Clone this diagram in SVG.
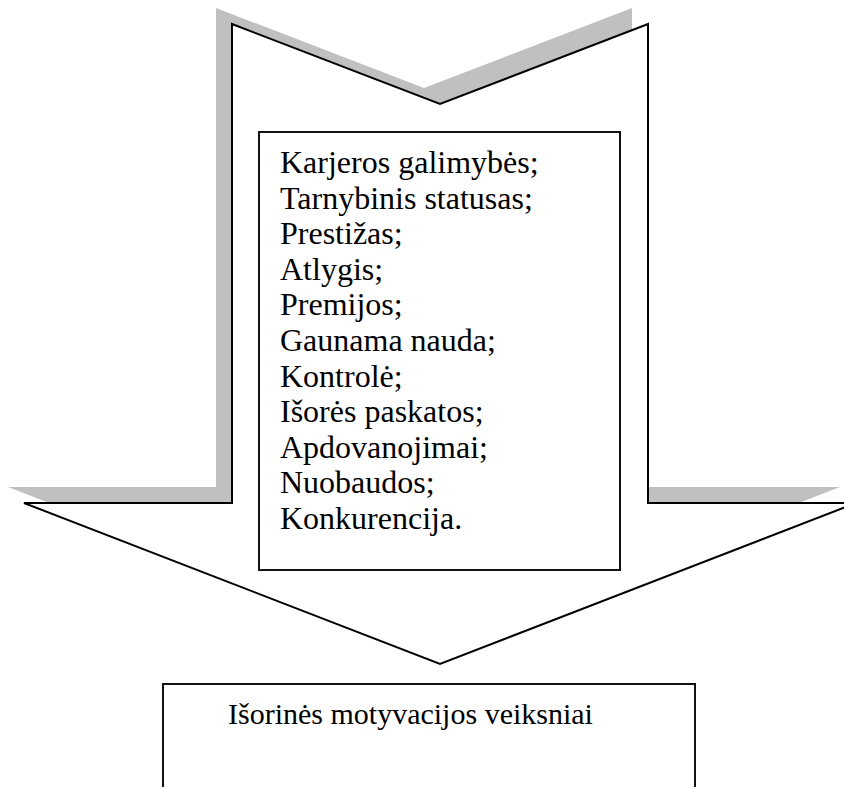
<svg xmlns="http://www.w3.org/2000/svg" width="844" height="787" viewBox="0 0 844 787">
<style>
.t{font-family:"Liberation Serif","Times New Roman",serif;font-size:32px;fill:#000}
.box{fill:#fff;stroke:#111;stroke-width:2}
</style>
<rect width="844" height="787" fill="#fff"/>
<g id="arrow">
<polygon points="216,8 424,88 632,8 632,487 840,487 424,648 8,487 216,487" fill="#c0c0c0"/>
<polygon points="232,24 440,104 648,24 648,503 856,503 440,664 24,503 232,503" fill="#fff" stroke="#000" stroke-width="2" stroke-linejoin="miter"/>
</g>
<g id="list">
<rect class="box" x="259" y="132" width="361" height="438"/>
<text class="t" x="280" y="173">Karjeros galimybės;</text>
<text class="t" x="280" y="208.6">Tarnybinis statusas;</text>
<text class="t" x="280" y="244.2">Prestižas;</text>
<text class="t" x="280" y="279.8">Atlygis;</text>
<text class="t" x="280" y="315.4">Premijos;</text>
<text class="t" x="280" y="351">Gaunama nauda;</text>
<text class="t" x="280" y="386.6">Kontrolė;</text>
<text class="t" x="280" y="422.2">Išorės paskatos;</text>
<text class="t" x="280" y="457.8">Apdovanojimai;</text>
<text class="t" x="280" y="493.4">Nuobaudos;</text>
<text class="t" x="280" y="529">Konkurencija.</text>
</g>
<g id="result">
<rect class="box" x="163" y="684" width="532" height="120"/>
<text class="t" x="228" y="724" style="font-size:30px">Išorinės motyvacijos veiksniai</text>
</g>
</svg>
